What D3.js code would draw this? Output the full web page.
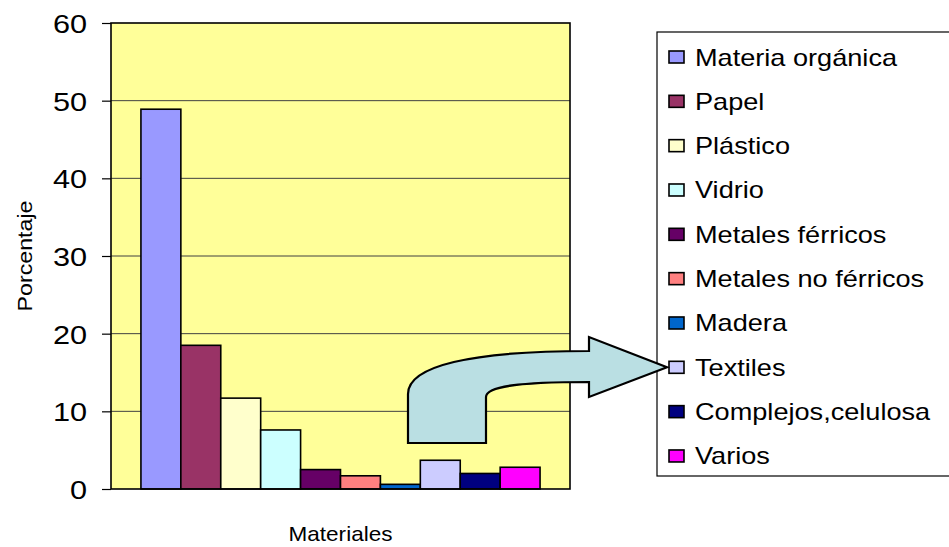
<!DOCTYPE html>
<html>
<head>
<meta charset="utf-8">
<script src="https://cdn.jsdelivr.net/npm/d3@7"></script>
<style>
  body { margin: 0; background: #fff; }
  svg { display: block; font-family: "Liberation Sans", Arial, sans-serif; }
</style>
</head>
<body>
<div id="chart"></div>
<script>
const materiales = ["Materia orgánica", "Papel", "Plástico", "Vidrio", "Metales férricos",
    "Metales no férricos", "Madera", "Textiles", "Complejos,celulosa", "Varios"];
const porcentajes = [48.9, 18.5, 11.7, 7.6, 2.5, 1.7, 0.6, 3.7, 2.0, 2.8];
const colores = ["#9999FF", "#993366", "#FFFFCC", "#CCFFFF", "#660066",
    "#FF8080", "#0066CC", "#CCCCFF", "#000080", "#FF00FF"];
const yTicks = [0, 10, 20, 30, 40, 50, 60];

const W = 949, H = 547;
const plot = {left: 111, top: 23, right: 570, bottom: 489};
const stretch = 1.18;

const svg = d3.select("#chart")
    .append("svg")
    .attr("width", W)
    .attr("height", H);

const x = d3.scaleBand()
    .domain(materiales)
    .range([plot.left, plot.right])
    .paddingInner(0)
    .paddingOuter(0.75);

const y = d3.scaleLinear()
    .domain([0, 60])
    .range([plot.bottom, plot.top]);

// plot background
svg.append("rect")
    .attr("x", plot.left)
    .attr("y", plot.top)
    .attr("width", plot.right - plot.left)
    .attr("height", plot.bottom - plot.top)
    .style("fill", "#FFFF99");

// gridlines
svg.append("g")
    .selectAll("line")
    .data(yTicks.filter(d => d > 0 && d < 60))
    .enter().append("line")
    .attr("x1", plot.left)
    .attr("x2", plot.right)
    .attr("y1", d => y(d))
    .attr("y2", d => y(d))
    .style("stroke", "#404040")
    .style("stroke-width", 1);

// bars
svg.append("g")
    .selectAll("rect")
    .data(materiales)
    .enter().append("rect")
    .attr("x", d => x(d))
    .attr("y", (d, i) => y(porcentajes[i]))
    .attr("width", x.bandwidth())
    .attr("height", (d, i) => y(0) - y(porcentajes[i]))
    .style("fill", (d, i) => colores[i])
    .style("stroke", "#000")
    .style("stroke-width", 1.6);

// plot border
svg.append("rect")
    .attr("x", plot.left)
    .attr("y", plot.top)
    .attr("width", plot.right - plot.left)
    .attr("height", plot.bottom - plot.top)
    .style("fill", "none")
    .style("stroke", "#000")
    .style("stroke-width", 1.6);

// y axis
const yAxis = svg.append("g")
    .attr("transform", "translate(" + plot.left + ",0)")
    .call(d3.axisLeft(y).tickValues(yTicks).tickSize(9).tickPadding(15));

yAxis.select(".domain").remove();
yAxis.selectAll(".tick line").style("stroke", "#000").style("stroke-width", 1.2);
yAxis.selectAll(".tick text")
    .attr("x", 0)
    .attr("dy", "0.36em")
    .attr("transform", "translate(-24,0) scale(" + stretch + ",1)")
    .style("font-family", "'Liberation Sans', Arial, sans-serif")
    .style("font-size", "26px")
    .style("fill", "#000");

// axis titles
svg.append("text")
    .attr("transform", "translate(32,256) rotate(-90)")
    .attr("text-anchor", "middle")
    .attr("textLength", 111)
    .attr("lengthAdjust", "spacingAndGlyphs")
    .style("font-size", "21px")
    .text("Porcentaje");

svg.append("text")
    .attr("x", (plot.left + plot.right) / 2)
    .attr("y", 541)
    .attr("text-anchor", "middle")
    .attr("textLength", 104)
    .attr("lengthAdjust", "spacingAndGlyphs")
    .style("font-size", "21px")
    .text("Materiales");

// legend
const legend = {left: 657, top: 32, bottom: 476, row0: 57, step: 44.33};

svg.append("rect")
    .attr("x", legend.left)
    .attr("y", legend.top)
    .attr("width", W)
    .attr("height", legend.bottom - legend.top)
    .style("fill", "#fff")
    .style("stroke", "#000")
    .style("stroke-width", 1.2);

const items = svg.append("g")
    .selectAll("g")
    .data(materiales)
    .enter().append("g")
    .attr("transform", (d, i) => "translate(0," + (legend.row0 + i * legend.step) + ")");

items.append("rect")
    .attr("x", 669)
    .attr("y", -6)
    .attr("width", 15)
    .attr("height", 12)
    .style("fill", (d, i) => colores[i])
    .style("stroke", "#000")
    .style("stroke-width", 1.6);

items.append("text")
    .attr("transform", "translate(695,8.5) scale(" + stretch + ",1)")
    .style("font-size", "23px")
    .text(d => d);

// curved arrow pointing to Textiles
const tipY = legend.row0 + 7 * legend.step;
const arrow = d3.path();
arrow.moveTo(408, 443);
arrow.lineTo(408, 394);
arrow.bezierCurveTo(408, 366, 470, 351, 589, 351);
arrow.lineTo(589, 337);
arrow.lineTo(667, tipY);
arrow.lineTo(589, 397);
arrow.lineTo(589, 382);
arrow.bezierCurveTo(520, 382, 486, 386, 486, 397);
arrow.lineTo(486, 443);
arrow.closePath();

svg.append("path")
    .attr("d", arrow.toString())
    .style("fill", "#BADFE3")
    .style("stroke", "#000")
    .style("stroke-width", 2.2)
    .style("stroke-linejoin", "miter");
</script>
</body>
</html>
